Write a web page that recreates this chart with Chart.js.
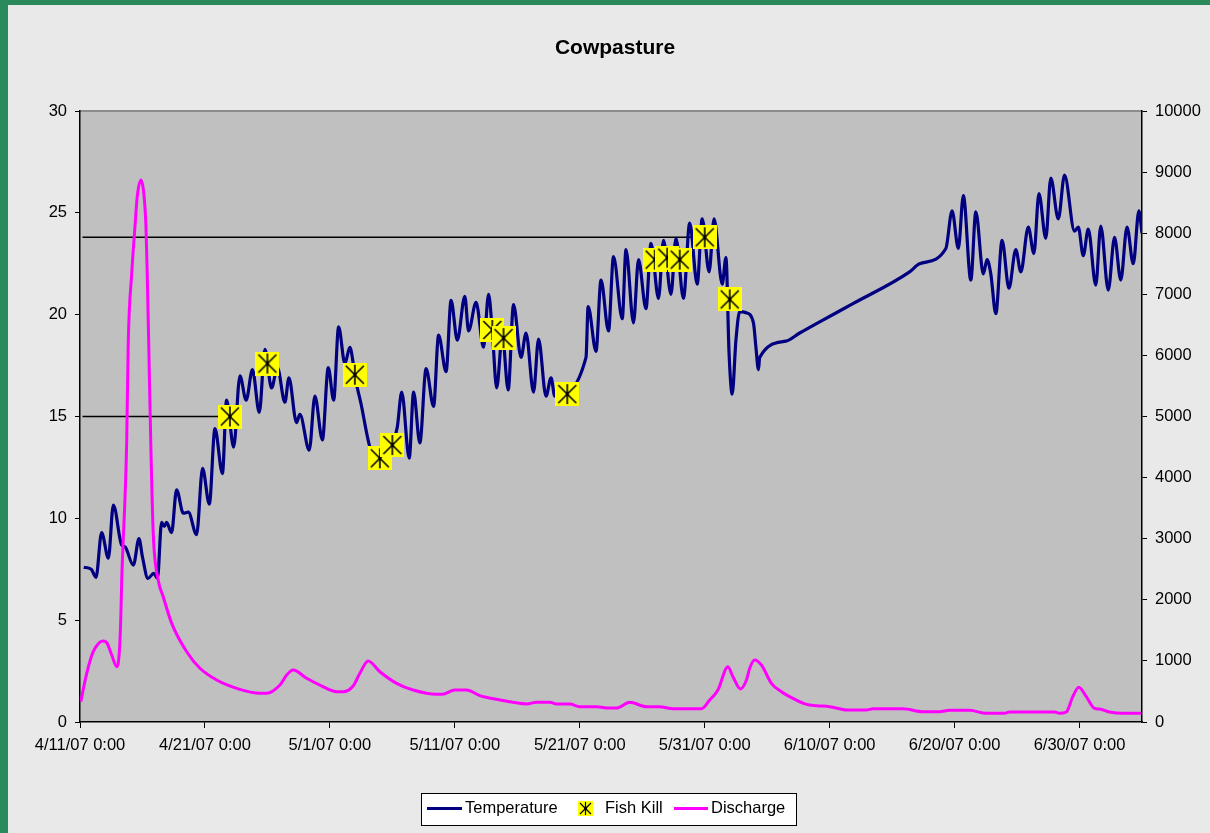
<!DOCTYPE html>
<html>
<head>
<meta charset="utf-8">
<title>Cowpasture</title>
<script src="https://cdn.jsdelivr.net/npm/chart.js@4.4.1/dist/chart.umd.min.js"></script>
<style>
  html, body { margin: 0; padding: 0; background: #2a8a5c; }
  canvas { display: block; }
</style>
</head>
<body>
<canvas id="myChart" width="1210" height="833"></canvas>
<script>
// all x values are days after 4/11/07 0:00
const tickDays = [0, 10, 20, 30, 40, 50, 60, 70, 80];
const tickLabels = ['4/11/07 0:00', '4/21/07 0:00', '5/1/07 0:00', '5/11/07 0:00', '5/21/07 0:00',
                    '5/31/07 0:00', '6/10/07 0:00', '6/20/07 0:00', '6/30/07 0:00'];

const tempDays = [
    0.3, 0.9, 1.28, 1.73, 2.27, 2.67, 3.33, 3.6, 4.27, 4.72,
    5.0, 5.44, 5.9, 6.2, 6.53, 6.75, 6.93, 7.33, 7.73, 8.27,
    8.67, 9.33, 9.81, 10.35, 10.8, 11.4, 11.73, 12.3, 12.8, 13.3,
    13.8, 14.35, 14.8, 15.33, 15.8, 16.4, 16.72, 17.33, 17.6, 18.35,
    18.8, 19.4, 19.87, 20.3, 20.7, 21.2, 21.6, 21.87, 22.0, 22.5,
    23.2, 23.8, 24.5, 25.0, 25.4, 25.75, 26.35, 26.7, 27.2, 27.7,
    28.3, 28.7, 29.3, 29.7, 30.2, 30.8, 31.1, 31.7, 32.3, 32.7,
    33.0, 33.35, 33.8, 34.27, 34.7, 35.3, 35.7, 36.3, 36.7, 37.3,
    37.7, 38.0, 40.5, 40.67, 41.3, 41.7, 42.3, 42.7, 43.4, 43.7,
    44.3, 44.7, 45.3, 45.7, 46.3, 46.7, 47.3, 47.7, 48.3, 48.8,
    49.4, 49.8, 50.35, 50.75, 51.4, 51.7, 51.95, 52.2, 52.5, 52.8,
    53.3, 53.9, 54.1, 54.3, 54.4, 56.5, 57.6, 59.2, 61.9, 66.4,
    67.2, 69.3, 69.8, 70.3, 70.7, 71.3, 71.7, 72.3, 72.6, 72.9,
    73.3, 73.8, 74.35, 74.9, 75.3, 75.9, 76.35, 76.75, 77.3, 77.7,
    78.3, 78.8, 79.6, 79.9, 80.3, 80.7, 81.3, 81.7, 82.3, 82.8,
    83.3, 83.8, 84.3, 84.75, 85.0
];
const tempValues = [
    7.6, 7.5, 7.1, 9.3, 8.05, 10.65, 8.7, 8.6, 7.7, 9.0,
    8.1, 7.05, 7.3, 7.05, 9.8, 9.6, 9.8, 9.3, 11.4, 10.25,
    10.3, 9.2, 12.45, 10.7, 14.4, 12.2, 15.8, 13.5, 17.0, 15.8,
    17.3, 15.2, 18.3, 16.4, 17.4, 15.7, 16.9, 14.7, 15.1, 13.35,
    16.0, 13.85, 17.4, 15.8, 19.4, 17.6, 18.4, 17.6, 17.0, 15.6,
    13.5, 12.9, 13.2, 13.6, 14.5, 16.2, 12.95, 16.2, 13.7, 17.35,
    15.5, 19.0, 17.2, 20.7, 18.75, 20.9, 19.2, 20.6, 18.4, 21.0,
    19.2, 16.4, 19.0, 16.3, 20.5, 17.9, 19.1, 16.2, 18.8, 16.0,
    16.9, 16.0, 17.9, 20.4, 18.2, 21.7, 19.2, 22.85, 19.8, 23.2,
    19.6, 22.7, 20.3, 23.5, 20.8, 23.65, 21.0, 23.75, 20.8, 24.5,
    21.5, 24.7, 22.1, 24.7, 21.5, 22.8, 18.1, 16.1, 18.75, 20.15,
    20.1, 19.6, 18.4, 17.3, 17.9, 18.7, 19.1, 19.65, 20.55, 22.1,
    22.5, 23.25, 25.1, 23.25, 25.85, 21.7, 25.05, 22.0, 22.7, 22.0,
    20.05, 23.65, 21.3, 23.2, 22.1, 24.3, 23.0, 25.95, 23.75, 26.7,
    24.7, 26.85, 24.1, 24.3, 22.9, 24.2, 21.45, 24.35, 21.2, 23.8,
    21.7, 24.3, 22.5, 25.1, 24.0
];

const dischargeDays = [
    0.06, 0.54, 1.06, 1.86, 2.14, 2.54, 2.94, 3.14, 3.26, 3.34,
    3.74, 3.86, 4.14, 4.4, 4.58, 4.88, 5.12, 5.28, 5.38, 5.5,
    5.66, 5.86, 6.26, 6.66, 7.34, 8.54, 9.6, 10.94, 12.54, 14.4,
    14.94, 16.0, 16.54, 17.06, 18.14, 19.2, 20.54, 21.06, 21.86, 22.4,
    23.06, 24.0, 25.34, 26.66, 28.54, 29.0, 30.0, 30.94, 32.0, 33.34,
    34.66, 35.74, 36.54, 37.6, 38.14, 39.2, 40.0, 41.34, 42.14, 42.94,
    44.0, 45.34, 46.4, 47.46, 49.74, 50.4, 51.06, 51.86, 52.26, 52.86,
    53.34, 53.6, 54.0, 54.54, 55.34, 56.14, 57.06, 58.14, 58.94, 60.0,
    61.46, 62.94, 63.46, 65.86, 67.46, 68.8, 69.6, 71.2, 72.54, 74.0,
    74.4, 78.0, 78.4, 78.94, 79.46, 79.94, 80.54, 81.2, 81.6, 82.4,
    83.46, 84.94
];
const dischargeValues = [
    333, 797, 1150, 1326, 1300, 1097, 905, 1124, 1670, 2324,
    4615, 6200, 7343, 8106, 8597, 8870, 8625, 8106, 7343, 6200,
    4615, 3093, 2324, 2051, 1615, 1150, 879, 687, 551, 470,
    470, 605, 769, 851, 715, 605, 496, 496, 590, 797,
    998, 823, 633, 524, 453, 453, 524, 524, 431, 371,
    322, 295, 322, 322, 295, 295, 251, 251, 229, 229,
    322, 251, 251, 218, 218, 360, 524, 905, 741, 540,
    687, 879, 1015, 933, 633, 496, 388, 289, 267, 251,
    196, 196, 218, 218, 169, 169, 191, 191, 142, 142,
    164, 164, 142, 164, 415, 568, 415, 224, 213, 164,
    142, 142
];

const killDays = [12, 15, 22, 24, 25, 33, 33.9, 39, 46, 47, 48, 50, 52];
const killValues = [15.0, 17.6, 17.05, 12.95, 13.6, 19.25, 18.85, 16.1, 22.7, 22.8, 22.7, 23.8, 20.75];

// thin black guides from the left axis to two of the kills
const guideStartDay = 0.2;
const guideKills = [0, 11];

const navy = '#000080';
const magenta = '#ff00ff';
const fontFamily = '"Liberation Sans", Arial, sans-serif';

function pts(xs, ys) {
    return xs.map((x, i) => ({ x: x, y: ys[i] }));
}

function killMarker(size, lw) {
    const c = document.createElement('canvas');
    c.width = size;
    c.height = size;
    const g = c.getContext('2d');
    g.fillStyle = '#ffff00';
    g.fillRect(0, 0, size, size);
    g.strokeStyle = '#000';
    g.lineWidth = lw;
    const m = Math.round(size * 0.14), h = size / 2;
    g.beginPath();
    g.moveTo(h, m - 1); g.lineTo(h, size - m + 1);
    g.moveTo(m, m); g.lineTo(size - m, size - m);
    g.moveTo(size - m, m); g.lineTo(m, size - m);
    g.stroke();
    g.fillStyle = '#000';
    g.fillRect(h - 1.5, h - 1.5, 3, 3);
    return c;
}
const bigMarker = killMarker(24, 1.6);
const smallMarker = killMarker(15, 1.2);

const guideSets = guideKills.map(k => ({
    label: 'guide',
    data: [{ x: guideStartDay, y: killValues[k] }, { x: killDays[k], y: killValues[k] }],
    borderColor: '#000',
    borderWidth: 1.5,
    pointRadius: 0,
    order: 5
}));

const framePlugin = {
    id: 'frame',
    beforeDraw(chart) {
        const c = chart.ctx, a = chart.chartArea;
        c.save();
        c.fillStyle = '#2a8a5c';
        c.fillRect(0, 0, chart.width, chart.height);
        c.fillStyle = '#e9e9e9';
        c.fillRect(8, 5, chart.width - 8, chart.height - 5);
        c.fillStyle = '#c0c0c0';
        c.fillRect(a.left, a.top, a.right - a.left, a.bottom - a.top);
        c.strokeStyle = '#8c8c8c';
        c.lineWidth = 2;
        c.beginPath();
        c.moveTo(a.left, a.top);
        c.lineTo(a.right, a.top);
        c.stroke();
        c.restore();
    },
    afterDraw(chart) {
        // Excel-style legend box
        const c = chart.ctx;
        c.save();
        c.fillStyle = '#fff';
        c.fillRect(421.5, 793.5, 375, 32);
        c.strokeStyle = '#000';
        c.lineWidth = 1;
        c.strokeRect(421.5, 793.5, 375, 32);
        c.lineWidth = 3;
        c.strokeStyle = navy;
        c.beginPath(); c.moveTo(427, 808.5); c.lineTo(462, 808.5); c.stroke();
        c.strokeStyle = magenta;
        c.beginPath(); c.moveTo(674, 808.5); c.lineTo(708, 808.5); c.stroke();
        c.drawImage(smallMarker, 578, 801);
        c.fillStyle = '#000';
        c.font = '16.5px ' + fontFamily;
        c.textBaseline = 'middle';
        c.fillText('Temperature', 465, 808);
        c.fillText('Fish Kill', 605, 808);
        c.fillText('Discharge', 711, 808);
        c.restore();
    }
};

Chart.defaults.font.family = fontFamily;
Chart.defaults.font.size = 16.5;
Chart.defaults.color = '#000';

const ctx = document.getElementById('myChart');
new Chart(ctx, {
    type: 'line',
    data: {
        datasets: [
            {
                label: 'Fish Kill',
                data: pts(killDays, killValues),
                showLine: false,
                pointStyle: bigMarker,
                pointRadius: 12,
                order: 0
            },
            {
                label: 'Discharge',
                data: pts(dischargeDays, dischargeValues),
                yAxisID: 'y2',
                borderColor: magenta,
                borderWidth: 3,
                pointRadius: 0,
                cubicInterpolationMode: 'monotone',
                order: 1
            },
            {
                label: 'Temperature',
                data: pts(tempDays, tempValues),
                borderColor: navy,
                borderWidth: 3.2,
                pointRadius: 0,
                cubicInterpolationMode: 'monotone',
                order: 2
            },
            ...guideSets
        ]
    },
    options: {
        responsive: false,
        animation: false,
        layout: { padding: { left: 20, right: 0, top: 0, bottom: 71 } },
        plugins: {
            legend: { display: false },
            tooltip: { enabled: false },
            title: {
                display: true,
                text: 'Cowpasture',
                font: { size: 21, weight: 'bold' },
                padding: { top: 35.4, bottom: 50.4 }
            }
        },
        scales: {
            x: {
                type: 'linear',
                min: 0,
                max: 85,
                afterBuildTicks: axis => { axis.ticks = tickDays.map(v => ({ value: v })); },
                afterFit: axis => { axis.height = 40; },
                ticks: {
                    maxRotation: 0,
                    autoSkip: false,
                    padding: 8,
                    callback: v => tickLabels[tickDays.indexOf(v)]
                },
                grid: { drawOnChartArea: false, tickLength: 6, color: '#000' },
                border: { color: '#000', width: 1.5 }
            },
            y: {
                position: 'left',
                min: 0,
                max: 30,
                afterFit: axis => { axis.width = 60; },
                ticks: { stepSize: 5, padding: 8 },
                grid: { drawOnChartArea: false, tickLength: 5, color: '#000' },
                border: { color: '#000', width: 1.5 }
            },
            y2: {
                position: 'right',
                min: 0,
                max: 10000,
                afterFit: axis => { axis.width = 68; },
                ticks: { stepSize: 1000, padding: 8, callback: v => String(v) },
                grid: { drawOnChartArea: false, tickLength: 5, color: '#000' },
                border: { color: '#000', width: 1.5 }
            }
        }
    },
    plugins: [framePlugin]
});
</script>
</body>
</html>
